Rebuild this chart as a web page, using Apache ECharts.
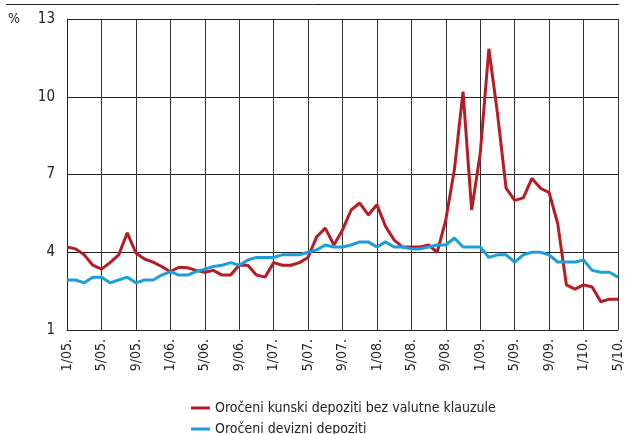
<!DOCTYPE html>
<html>
<head>
<meta charset="utf-8">
<script src="https://cdn.jsdelivr.net/npm/echarts@6/dist/echarts.min.js"></script>
<style>
  html, body { margin: 0; padding: 0; background: #fff; }
  #chart { width: 625px; height: 434px; }
</style>
</head>
<body>
<div id="chart"></div>
<script>
// mjesečne oznake 1/05. - 5/10.
var months = [
  '1/05.','2/05.','3/05.','4/05.','5/05.','6/05.','7/05.','8/05.','9/05.','10/05.','11/05.','12/05.',
  '1/06.','2/06.','3/06.','4/06.','5/06.','6/06.','7/06.','8/06.','9/06.','10/06.','11/06.','12/06.',
  '1/07.','2/07.','3/07.','4/07.','5/07.','6/07.','7/07.','8/07.','9/07.','10/07.','11/07.','12/07.',
  '1/08.','2/08.','3/08.','4/08.','5/08.','6/08.','7/08.','8/08.','9/08.','10/08.','11/08.','12/08.',
  '1/09.','2/09.','3/09.','4/09.','5/09.','6/09.','7/09.','8/09.','9/09.','10/09.','11/09.','12/09.',
  '1/10.','2/10.','3/10.','4/10.','5/10.'
];

// Oročeni kunski depoziti bez valutne klauzule
var kunski = [
  4.2, 4.13, 3.9, 3.5, 3.35, 3.6, 3.9, 4.75, 3.97, 3.74, 3.62, 3.45,
  3.25, 3.42, 3.4, 3.3, 3.23, 3.3, 3.12, 3.12, 3.5, 3.5, 3.12, 3.04,
  3.6, 3.5, 3.5, 3.6, 3.8, 4.6, 4.93, 4.28, 4.86, 5.63, 5.9, 5.44,
  5.83, 5.0, 4.47, 4.2, 4.2, 4.2, 4.28, 4.0, 5.25, 7.2, 10.2, 5.63,
  7.82, 11.85, 9.36, 6.47, 6.0, 6.1, 6.85, 6.47, 6.3, 5.1, 2.74, 2.58,
  2.74, 2.66, 2.09, 2.19, 2.19
];

// Oročeni devizni depoziti
var devizni = [
  2.93, 2.93, 2.82, 3.04, 3.04, 2.82, 2.93, 3.04, 2.82, 2.93, 2.93, 3.12,
  3.25, 3.12, 3.12, 3.25, 3.35, 3.45, 3.5, 3.6, 3.5, 3.7, 3.8, 3.8,
  3.8, 3.9, 3.9, 3.9, 4.0, 4.09, 4.28, 4.2, 4.2, 4.28, 4.4, 4.4,
  4.2, 4.4, 4.2, 4.2, 4.13, 4.13, 4.2, 4.28, 4.28, 4.55, 4.2, 4.2,
  4.2, 3.8, 3.9, 3.9, 3.62, 3.9, 4.0, 4.0, 3.9, 3.62, 3.62, 3.62,
  3.7, 3.3, 3.23, 3.23, 3.04
];

var seriesNames = ['Oročeni kunski depoziti bez valutne klauzule', 'Oročeni devizni depoziti'];
var yTicks = [1, 4, 7, 10, 13];

var font = '"Liberation Sans Narrow", "DejaVu Sans Condensed", Arial, sans-serif';
var chart = echarts.init(document.getElementById('chart'));

// jedna legenda po retku, jedna ispod druge
function legendRow(name, top) {
  return {
    left: 186,
    top: top,
    itemWidth: 19,
    itemHeight: 3,
    icon: 'rect',
    textStyle: { fontSize: 14, color: '#222', fontFamily: font },
    data: [name]
  };
}

chart.setOption({
  animation: false,
  textStyle: { fontFamily: font },
  grid: { left: 67, right: 6, top: 19, bottom: 104, containLabel: false },
  graphic: [
    { type: 'line', shape: { x1: 6, y1: 4.5, x2: 619, y2: 4.5 }, style: { stroke: '#222', lineWidth: 1 } },
    { type: 'text', left: 8, top: 12, style: { text: '%', fill: '#222', font: '14px ' + font } }
  ],
  legend: [legendRow(seriesNames[0], 396), legendRow(seriesNames[1], 417)],
  xAxis: {
    type: 'category',
    data: months,
    boundaryGap: false,
    axisLine: { lineStyle: { color: '#222', width: 1 } },
    axisTick: { show: false },
    axisLabel: { interval: 3, rotate: 90, margin: 9, fontSize: 14, color: '#222', fontFamily: font },
    splitLine: { show: true, interval: 3, lineStyle: { color: '#333', width: 1 } }
  },
  yAxis: {
    type: 'value',
    min: yTicks[0],
    max: yTicks[yTicks.length - 1],
    interval: 3,
    axisLine: { show: true, lineStyle: { color: '#222', width: 1 } },
    axisTick: { show: false },
    axisLabel: { margin: 12, fontSize: 15, color: '#222', fontFamily: font },
    splitLine: { show: true, lineStyle: { color: '#222', width: 1 } }
  },
  series: [
    {
      name: seriesNames[0],
      type: 'line',
      data: kunski,
      symbol: 'none',
      color: '#b71c25',
      lineStyle: { width: 3, color: '#b71c25' }
    },
    {
      name: seriesNames[1],
      type: 'line',
      data: devizni,
      symbol: 'none',
      color: '#1a9fdb',
      lineStyle: { width: 3, color: '#1a9fdb' }
    }
  ]
});
</script>
</body>
</html>
